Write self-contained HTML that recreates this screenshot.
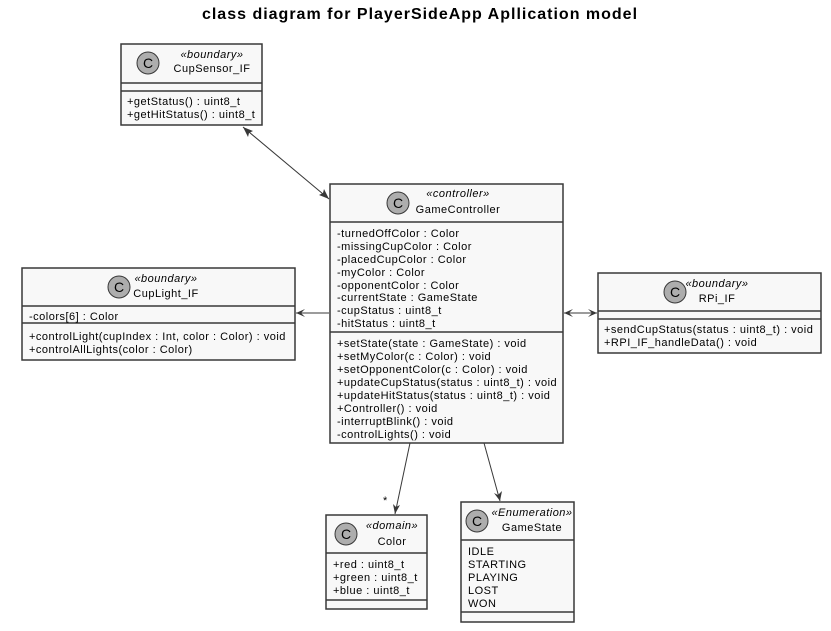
<!DOCTYPE html>
<html><head><meta charset="utf-8"><style>
html,body{margin:0;padding:0;background:#fff;}
svg{display:block;}
text{font-family:"Liberation Sans","DejaVu Sans",sans-serif;font-size:11px;fill:#000;letter-spacing:0.5px;}
.t{font-size:16px;font-weight:bold;letter-spacing:1px;}
.st{font-style:italic;font-size:11px;}
.bx{fill:#f8f8f8;stroke:#383838;stroke-width:1.5;}
.ln{stroke:#383838;stroke-width:1.5;}
.ed{stroke:#383838;stroke-width:1;fill:none;}
.ah{fill:#383838;}
.ci{fill:#adadad;stroke:#383838;stroke-width:1;}
.cc{font-size:14px;letter-spacing:0;}
</style></head><body>
<svg width="831" height="631" viewBox="0 0 831 631">
<text class="t" x="420" y="19" text-anchor="middle">class diagram for PlayerSideApp Apllication model</text>

<!-- CupSensor_IF -->
<rect class="bx" x="121" y="44" width="141" height="81"/>
<line class="ln" x1="121" y1="83" x2="262" y2="83"/>
<line class="ln" x1="121" y1="91" x2="262" y2="91"/>
<circle class="ci" cx="148" cy="63" r="11"/><text class="cc" x="148" y="68" text-anchor="middle">C</text>
<text class="st" x="212" y="58" text-anchor="middle">«boundary»</text>
<text x="212" y="72" text-anchor="middle">CupSensor_IF</text>
<text x="127" y="105">+getStatus() : uint8_t</text>
<text x="127" y="118">+getHitStatus() : uint8_t</text>

<!-- GameController -->
<rect class="bx" x="330" y="184" width="233" height="259"/>
<line class="ln" x1="330" y1="222" x2="563" y2="222"/>
<line class="ln" x1="330" y1="332" x2="563" y2="332"/>
<circle class="ci" cx="398" cy="203" r="11"/><text class="cc" x="398" y="208" text-anchor="middle">C</text>
<text class="st" x="458" y="197" text-anchor="middle">«controller»</text>
<text x="458" y="213" text-anchor="middle">GameController</text>
<text x="337" y="237">-turnedOffColor : Color</text>
<text x="337" y="250">-missingCupColor : Color</text>
<text x="337" y="263">-placedCupColor : Color</text>
<text x="337" y="276">-myColor : Color</text>
<text x="337" y="289">-opponentColor : Color</text>
<text x="337" y="301">-currentState : GameState</text>
<text x="337" y="314">-cupStatus : uint8_t</text>
<text x="337" y="327">-hitStatus : uint8_t</text>
<text x="337" y="347">+setState(state : GameState) : void</text>
<text x="337" y="360">+setMyColor(c : Color) : void</text>
<text x="337" y="373">+setOpponentColor(c : Color) : void</text>
<text x="337" y="386">+updateCupStatus(status : uint8_t) : void</text>
<text x="337" y="399">+updateHitStatus(status : uint8_t) : void</text>
<text x="337" y="412">+Controller() : void</text>
<text x="337" y="425">-interruptBlink() : void</text>
<text x="337" y="438">-controlLights() : void</text>

<!-- CupLight_IF -->
<rect class="bx" x="22" y="268" width="273" height="92"/>
<line class="ln" x1="22" y1="306" x2="295" y2="306"/>
<line class="ln" x1="22" y1="323" x2="295" y2="323"/>
<circle class="ci" cx="119" cy="287" r="11"/><text class="cc" x="119" y="292" text-anchor="middle">C</text>
<text class="st" x="166" y="282" text-anchor="middle">«boundary»</text>
<text x="166" y="297" text-anchor="middle">CupLight_IF</text>
<text x="29" y="320">-colors[6] : Color</text>
<text x="29" y="340">+controlLight(cupIndex : Int, color : Color) : void</text>
<text x="29" y="353">+controlAllLights(color : Color)</text>

<!-- RPi_IF -->
<rect class="bx" x="598" y="273" width="223" height="80"/>
<line class="ln" x1="598" y1="311" x2="821" y2="311"/>
<line class="ln" x1="598" y1="319" x2="821" y2="319"/>
<circle class="ci" cx="675" cy="292" r="11"/><text class="cc" x="675" y="297" text-anchor="middle">C</text>
<text class="st" x="717" y="287" text-anchor="middle">«boundary»</text>
<text x="717" y="302" text-anchor="middle">RPi_IF</text>
<text x="604" y="333">+sendCupStatus(status : uint8_t) : void</text>
<text x="604" y="346">+RPI_IF_handleData() : void</text>

<!-- Color -->
<rect class="bx" x="326" y="515" width="101" height="94"/>
<line class="ln" x1="326" y1="553" x2="427" y2="553"/>
<line class="ln" x1="326" y1="600" x2="427" y2="600"/>
<circle class="ci" cx="346" cy="534" r="11"/><text class="cc" x="346" y="539" text-anchor="middle">C</text>
<text class="st" x="392" y="529" text-anchor="middle">«domain»</text>
<text x="392" y="545" text-anchor="middle">Color</text>
<text x="333" y="568">+red : uint8_t</text>
<text x="333" y="581">+green : uint8_t</text>
<text x="333" y="594">+blue : uint8_t</text>

<!-- GameState -->
<rect class="bx" x="461" y="502" width="113" height="120"/>
<line class="ln" x1="461" y1="540" x2="574" y2="540"/>
<line class="ln" x1="461" y1="612" x2="574" y2="612"/>
<circle class="ci" cx="477" cy="521" r="11"/><text class="cc" x="477" y="526" text-anchor="middle">C</text>
<text class="st" x="532" y="516" text-anchor="middle">«Enumeration»</text>
<text x="532" y="531" text-anchor="middle">GameState</text>
<text x="468" y="555">IDLE</text>
<text x="468" y="568">STARTING</text>
<text x="468" y="581">PLAYING</text>
<text x="468" y="594">LOST</text>
<text x="468" y="607">WON</text>

<!-- edges -->
<line class="ed" x1="243" y1="127" x2="329" y2="199"/>
<polygon class="ah" points="243,127 253,131 249,133 248,137"/>
<polygon class="ah" points="329,199 319,195 323,193 324,189"/>

<line class="ed" x1="296" y1="313" x2="329" y2="313"/>
<polygon class="ah" points="296,313 305,309 301,313 305,317"/>

<line class="ed" x1="564" y1="313" x2="597" y2="313"/>
<polygon class="ah" points="564,313 573,309 569,313 573,317"/>
<polygon class="ah" points="597,313 588,309 592,313 588,317"/>

<line class="ed" x1="410" y1="443" x2="395" y2="514"/>
<polygon class="ah" points="395,514 393,504 396,507 400,505"/>
<text x="383" y="504">*</text>

<line class="ed" x1="484" y1="443" x2="500" y2="501"/>
<polygon class="ah" points="500,501 494,493 498,495 502,491"/>
</svg>
</body></html>
